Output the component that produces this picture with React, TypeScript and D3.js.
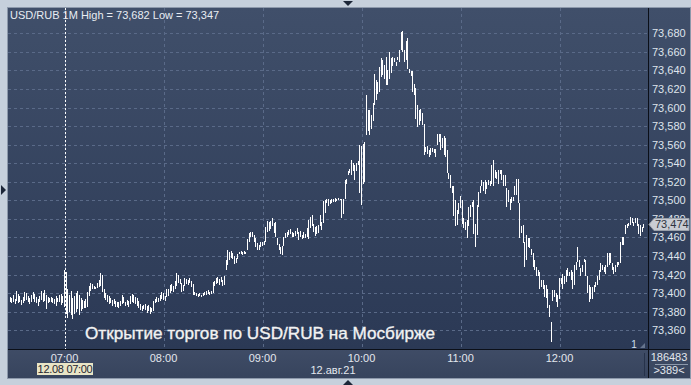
import React from 'react';
import * as d3 from 'd3';

const W = 691;
const H = 385;

const symbolTitle = 'USD/RUB 1M High = 73,682 Low = 73,347';
const overlayText = 'Открытие торгов по USD/RUB на Мосбирже';
const firstBarTime = new Date(2021, 7, 12, 6, 27);
const hourLabels = ['07:00', '08:00', '09:00', '10:00', '11:00', '12:00'];
const hourValues = [7, 8, 9, 10, 11, 12];
const priceTicks = [73.36, 73.38, 73.4, 73.42, 73.44, 73.46, 73.48, 73.5, 73.52, 73.54, 73.56, 73.58, 73.6, 73.62, 73.64, 73.66, 73.68];
const gridPrices = [73.34, ...priceTicks];
const lastPrice = 73.474;
const cursorLabel = '12.08 07:00';
const dateLabel = '12.авг.21';
const volumeLabel = '186483';
const countLabel = '>389<';

const highs = [
  73.396,73.395,73.398,73.394,73.402,73.399,73.397,73.393,73.396,73.401,73.400,73.397,73.395,73.398,73.401,73.399,73.396,73.394,73.397,73.402,73.400,73.403,73.398,73.396,73.395,73.396,73.395,73.394,73.397,73.395,73.398,73.399,73.397,
  73.425,73.423,73.405,73.398,73.402,73.395,73.397,73.400,73.402,73.398,73.395,73.393,73.392,73.394,73.401,73.408,73.411,73.410,73.408,73.407,73.411,73.414,73.422,73.420,73.404,
  73.400,73.398,73.397,73.395,73.393,73.394,73.392,73.390,
  73.390,73.392,73.398,73.396,73.391,73.393,73.392,73.397,73.399,73.398,73.396,73.395,73.392,73.388,73.386,73.387,73.388,73.386,73.387,73.385,73.384,73.392,73.394,73.396,73.395,73.398,73.401,73.400,73.397,73.405,73.404,73.409,73.410,73.408,73.413,73.422,73.420,73.415,73.411,73.409,73.416,73.415,73.414,73.416,73.413,73.410,73.401,73.400,73.399,73.400,73.398,73.400,73.401,73.402,73.403,73.401,73.402,73.412,73.413,73.416,73.417,73.415,73.417,73.414,73.418,
  73.436,73.446,73.444,73.445,73.443,73.440,73.438,73.442,73.444,73.445,73.444,73.445,73.444,73.458,73.465,73.466,73.466,73.463,73.459,73.454,73.452,73.455,73.455,73.456,73.471,73.478,73.477,73.478,73.481,73.476,73.477,73.459,73.453,73.450,73.451,73.460,73.465,73.466,73.468,73.469,73.466,73.465,73.467,73.470,73.466,73.467,73.463,73.466,73.464,73.470,73.479,73.482,73.484,73.474,73.471,73.472,73.473,73.484,73.477,73.499,73.500,73.502,73.501,73.500,73.502,73.501,73.503,73.502,73.503,73.502,73.502,73.501,73.522,73.523,73.532,73.534,73.543,73.540,73.538,73.540,73.542,73.560,73.559,73.561,73.563,73.613,73.597,73.597,73.592,73.605,73.636,73.630,73.628,73.644,73.653,73.651,73.646,73.655,73.640,73.660,73.653,73.655,73.653,73.649,73.655,73.662,73.681,73.682,73.662,73.672,73.675,73.641,73.639,73.639,73.625,73.621,73.603,73.597,73.598,73.594,73.582,73.558,73.559,73.554,73.556,73.556,73.555,73.555,73.572,73.572,73.571,73.567,73.569,73.567,
  73.554,73.529,73.527,73.515,73.515,73.500,73.490,73.497,73.505,73.500,73.481,73.477,73.479,73.493,73.495,73.498,73.500,73.475,73.495,73.509,73.516,73.522,73.520,73.522,73.520,73.522,73.521,73.538,73.543,73.533,73.531,73.533,73.533,73.533,73.527,73.527,73.513,73.511,73.502,73.504,73.504,73.515,73.523,73.523,73.497,73.472,73.473,73.455,73.463,73.459,73.459,73.448,73.443,73.436,73.428,73.425,73.423,73.414,73.414,73.409,73.409,73.405,
  73.387,73.369,73.403,73.403,73.400,73.398,73.416,73.416,73.421,73.418,73.425,73.427,73.423,73.425,73.423,73.430,73.434,73.450,73.436,73.427,73.430,73.437,73.436,73.418,73.409,73.407,73.407,73.409,73.412,73.419,73.425,73.432,73.430,73.428,73.430,73.443,73.443,73.443,73.432,73.428,73.430,73.434,73.434,73.455,73.461,73.461,73.473,73.475,73.476,73.482,73.481,73.477,73.481,73.481,73.475,73.473,73.471,73.475,
];

const lows = [
  73.390,73.389,73.391,73.388,73.392,73.389,73.391,73.387,73.389,73.392,73.393,73.390,73.388,73.391,73.394,73.390,73.389,73.386,73.390,73.393,73.391,73.392,73.383,73.389,73.390,73.391,73.389,73.388,73.386,73.390,73.391,73.387,73.389,
  73.385,73.378,73.373,73.380,73.376,73.372,73.378,73.380,73.383,73.376,73.381,73.383,73.384,73.384,73.385,73.397,73.402,73.405,73.405,73.404,73.406,73.407,73.408,73.401,73.395,
  73.393,73.391,73.388,73.389,73.386,73.388,73.385,73.385,
  73.384,73.386,73.388,73.389,73.386,73.387,73.385,73.388,73.390,73.389,73.388,73.386,73.384,73.382,73.381,73.383,73.382,73.379,73.381,73.378,73.380,73.381,73.389,73.390,73.391,73.392,73.394,73.393,73.392,73.396,73.397,73.400,73.402,73.401,73.405,73.408,73.411,73.410,73.401,73.402,73.408,73.410,73.409,73.411,73.407,73.398,73.398,73.397,73.396,73.397,73.396,73.397,73.398,73.398,73.399,73.398,73.399,73.400,73.408,73.410,73.411,73.409,73.412,73.408,73.409,
  73.425,73.430,73.436,73.438,73.437,73.431,73.432,73.437,73.442,73.442,73.441,73.442,73.442,73.447,73.455,73.460,73.461,73.455,73.450,73.446,73.447,73.450,73.451,73.452,73.455,73.466,73.467,73.469,73.472,73.465,73.460,73.452,73.447,73.442,73.441,73.451,73.459,73.461,73.463,73.464,73.460,73.460,73.462,73.464,73.457,73.461,73.458,73.459,73.459,73.461,73.458,73.470,73.472,73.466,73.462,73.464,73.465,73.472,73.468,73.476,73.486,73.497,73.494,73.496,73.497,73.498,73.498,73.499,73.500,73.500,73.481,73.485,73.502,73.518,73.527,73.529,73.527,73.532,73.522,73.532,73.538,73.508,73.495,73.518,73.520,73.570,73.575,73.570,73.577,73.585,73.603,73.608,73.615,73.617,73.633,73.635,73.631,73.624,73.624,73.631,73.637,73.645,73.649,73.645,73.651,73.649,73.662,73.660,73.649,73.651,73.641,73.637,73.634,73.617,73.613,73.588,73.579,73.581,73.585,73.581,73.549,73.552,73.550,73.547,73.549,73.552,73.551,73.547,73.560,73.563,73.554,73.556,73.549,73.547,
  73.529,73.523,73.513,73.508,73.483,73.472,73.473,73.485,73.492,73.474,73.470,73.468,73.459,73.472,73.482,73.493,73.464,73.450,73.463,73.493,73.508,73.515,73.510,73.507,73.512,73.517,73.515,73.518,73.516,73.524,73.523,73.518,73.528,73.522,73.515,73.515,73.493,73.498,73.490,73.497,73.499,73.506,73.506,73.497,73.459,73.465,73.454,73.428,73.436,73.450,73.449,73.441,73.428,73.425,73.419,73.418,73.405,73.407,73.405,73.396,73.395,73.384,
  73.374,73.347,73.392,73.396,73.391,73.385,73.394,73.410,73.405,73.410,73.412,73.419,73.418,73.414,73.405,73.409,73.425,73.434,73.428,73.419,73.423,73.434,73.418,73.400,73.391,73.394,73.394,73.401,73.407,73.409,73.414,73.423,73.425,73.423,73.421,73.428,73.430,73.432,73.425,73.421,73.423,73.428,73.430,73.432,73.452,73.452,73.464,73.470,73.472,73.473,73.476,73.472,73.476,73.472,73.464,73.462,73.466,73.470,
];

const bars = highs.map((h, i) => ({
  time: d3.timeMinute.offset(firstBarTime, i),
  high: h,
  low: lows[i],
}));

const PL = 8, PR = 648, PT = 8, PB = 349, AXB = 378, RR = 690;
const FONT = '"Liberation Sans", Arial, sans-serif';
const fmt = (v: number) => d3.format('.3f')(v).replace('.', ',');

export default function App() {
  const x = d3.scaleTime()
    .domain([new Date(2021, 7, 12, 7, 0), new Date(2021, 7, 12, 12, 0)])
    .range([64.5, 559.5]);
  const y = d3.scaleLinear().domain([73.36, 73.68]).range([330.3, 33.3]);
  const hours = hourValues.map((h) => new Date(2021, 7, 12, h, 0));
  const cursorX = Math.round(x(hours[0])) + 0.5;
  const lastY = y(lastPrice);

  return (
    <svg width={W} height={H} style={{ position: 'absolute', left: 0, top: 0 }} fontFamily={FONT}>
      <defs>
        <linearGradient id="bg" x1="0" y1="0" x2="0" y2="1">
          <stop offset="0" stopColor="#404f6a" />
          <stop offset="1" stopColor="#2b3955" />
        </linearGradient>
        <linearGradient id="axbg" x1="0" y1="0" x2="0" y2="1">
          <stop offset="0" stopColor="#3f4c66" />
          <stop offset="1" stopColor="#37445d" />
        </linearGradient>
      </defs>
      <rect x={0} y={0} width={W} height={H} fill="#c6d0dc" />
      <rect x={PL} y={PT} width={RR - PL} height={PB - PT} fill="url(#bg)" />
      <rect x={PL} y={PB} width={RR - PL} height={AXB - PB} fill="url(#axbg)" />

      {/* grid */}
      {gridPrices.map((p) => (
        <line key={'g' + p} x1={PL} x2={PR} y1={Math.round(y(p)) + 0.5} y2={Math.round(y(p)) + 0.5}
          stroke="#5a6a88" strokeDasharray="3,3" />
      ))}
      {hours.map((h, i) => (
        <line key={'v' + i} x1={Math.round(x(h)) + 0.5} x2={Math.round(x(h)) + 0.5} y1={PT} y2={PB}
          stroke="#5a6a88" strokeDasharray="3,3" />
      ))}

      {/* bars */}
      <g fill="#ffffff" shapeRendering="crispEdges">
        {bars.map((b, i) => {
          const yh = y(b.high);
          const yl = y(b.low);
          return (
            <rect key={i} x={Math.floor(x(b.time))} y={Math.round(yh)} width={1}
              height={Math.max(1, Math.round(yl) - Math.round(yh))} />
          );
        })}
      </g>

      {/* cursor line */}
      <line x1={cursorX} x2={cursorX} y1={PT} y2={PB} stroke="#ffffff" strokeDasharray="2,2" />

      {/* title */}
      <text x={10} y={19} fontSize={11} fill="#e8ecf2">{symbolTitle}</text>

      {/* overlay text */}
      <text x={85} y={339} fontSize={17} fill="#f2f2f2" stroke="#f2f2f2" strokeWidth={0.35}
        textLength={350} lengthAdjust="spacingAndGlyphs">{overlayText}</text>

      <text x={634} y={348} fontSize={10} fill="#cfe0f0" textAnchor="middle">1</text>
      <path d="M640,348 L645,343 L645,348 Z" fill="#66758e" />

      {/* frames */}
      <line x1={PL} x2={RR} y1={PB + 0.5} y2={PB + 0.5} stroke="#0b0f18" />
      <line x1={PR + 0.5} x2={PR + 0.5} y1={PT} y2={AXB} stroke="#0b0f18" />
      <line x1={644.5} x2={644.5} y1={PB + 4} y2={AXB - 2} stroke="#26324a" />
      <rect x={PL - 0.5} y={PT - 0.5} width={RR - PL + 1} height={AXB - PT + 1} fill="none" stroke="#8d99ab" />

      {/* right axis */}
      {priceTicks.map((p) => (
        <text key={'t' + p} x={652} y={y(p) + 4} fontSize={11} fill="#dfe4ec">{fmt(p)}</text>
      ))}
      <path d={`M${PR + 1},${lastY} L${PR + 6},${lastY - 6} L${RR - 1},${lastY - 6} L${RR - 1},${lastY + 6} L${PR + 6},${lastY + 6} Z`}
        fill="#c9ccd3" stroke="#9aa0aa" />
      <text x={655} y={lastY + 4} fontSize={11} fill="#2e3440">{fmt(lastPrice)}</text>

      {/* bottom axis */}
      {hours.map((h, i) => (
        <text key={'h' + i} x={x(h)} y={362} fontSize={11} fill="#e3e7ee" textAnchor="middle">{hourLabels[i]}</text>
      ))}
      <rect x={37} y={363} width={56} height={12} fill="#e9e5c6" />
      <text x={65} y={373} fontSize={11} fill="#1e2430" textAnchor="middle" letterSpacing={-0.3}>{cursorLabel}</text>
      <text x={333} y={374} fontSize={11} fill="#e3e7ee" textAnchor="middle">{dateLabel}</text>

      <text x={669} y={361} fontSize={11} fill="#e3e7ee" textAnchor="middle">{volumeLabel}</text>
      <line x1={655} x2={688} y1={364.5} y2={364.5} stroke="#8d99ab" />
      <text x={669} y={374} fontSize={11} fill="#e3e7ee" textAnchor="middle">{countLabel}</text>

      {/* triangles on frame */}
      <path d="M343,1 L353,1 L348,6 Z" fill="#1c2638" />
      <path d="M343,385 L353,385 L348,380 Z" fill="#1c2638" />
      <path d="M1,185 L1,195 L6,190 Z" fill="#1c2638" />
    </svg>
  );
}
